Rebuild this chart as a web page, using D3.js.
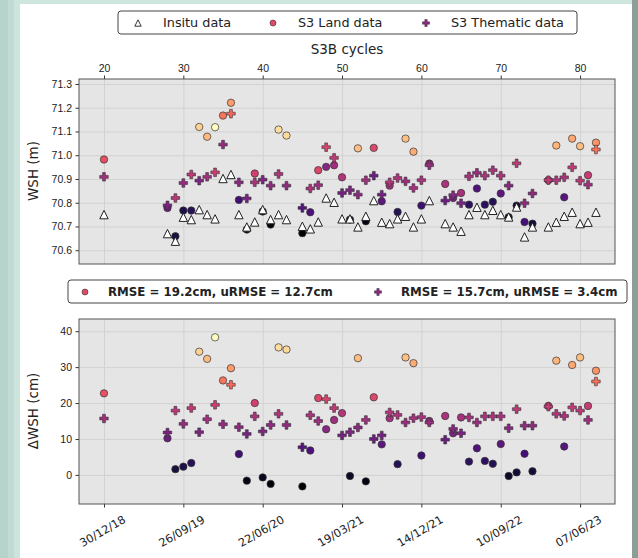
<!DOCTYPE html>
<html>
<head>
<meta charset="utf-8">
<script src="https://cdn.jsdelivr.net/npm/d3@7"></script>
<style>
  body { margin: 0; background: #c3dcd5; }
  svg { display: block; font-family: 'DejaVu Sans', sans-serif; }
  .tick text { fill: #222; font-size: 10.5px; }
  .tick line { stroke: #333; }
  .domain { display: none; }
  .grid line { stroke: #d2d2d2; stroke-width: 1; }
  .grid .domain { display: none; }
</style>
</head>
<body>
<div id="chart"></div>
<script>
// S3B cycle numbers
const cycles = [20, 28, 29, 30, 31, 32, 33, 34, 35, 36, 37, 38, 39, 40, 41, 42, 43,
  45, 46, 47, 48, 49, 50, 51, 52, 53, 54, 55, 56, 57, 58, 59, 60, 61,
  63, 64, 65, 66, 67, 68, 69, 70, 71, 72, 73, 74, 76, 77, 78, 79, 80, 81, 82]

// WSH (m)
const insituWsh = [70.750, 70.670, 70.638, 70.739, 70.729, 70.771, 70.750, 70.732, 70.902, 70.919, 70.750, 70.698, 70.719, 70.771, 70.729, 70.750, 70.729,
  70.701, 70.690, 70.719, 70.820, 70.802, 70.732, 70.732, 70.698, 70.743, 70.809, 70.718, 70.712, 70.732, 70.743, 70.698, 70.732, 70.809,
  70.712, 70.698, 70.680, 70.750, 70.781, 70.750, 70.768, 70.750, 70.740, 70.782, 70.656, 70.698, 70.698, 70.718, 70.743, 70.760, 70.712, 70.718, 70.760]
const landWsh = [70.982, 70.778, 70.659, 70.767, 70.767, 71.119, 71.078, 71.118, 71.167, 71.221, 70.812, 70.687, 70.923, 70.763, 70.708, 71.108, 71.083,
  70.672, 70.760, 70.937, 70.951, 70.958, 70.907, 70.729, 71.029, 70.722, 71.031, 70.806, 70.872, 70.761, 71.070, 71.015, 70.788, 70.965,
  70.879, 70.820, 70.841, 70.792, 70.860, 70.792, 70.804, 70.839, 70.739, 70.788, 70.719, 70.712, 70.895, 71.041, 70.823, 71.070, 71.038, 70.916, 71.053]
const thematicWsh = [70.909, 70.789, 70.820, 70.883, 70.919, 70.893, 70.909, 70.928, 71.045, 71.175, 70.886, 70.818, 70.886, 70.897, 70.872, 70.921, 70.872,
  70.778, 70.860, 70.874, 71.034, 70.989, 70.841, 70.853, 70.834, 70.895, 70.914, 70.834, 70.886, 70.904, 70.890, 70.862, 70.895, 70.958,
  70.809, 70.832, 70.798, 70.911, 70.926, 70.914, 70.937, 70.914, 70.872, 70.966, 70.798, 70.839, 70.895, 70.895, 70.907, 70.949, 70.893, 70.876, 71.024]

// Delta WSH (cm)
const landDelta = [22.7, 10.2, 1.6, 2.3, 3.3, 34.3, 32.3, 38.3, 26.3, 29.7, 5.8, -1.6, 20.0, -0.7, -2.5, 35.5, 34.9,
  -3.2, 6.8, 21.4, 12.7, 15.3, 17.2, -0.3, 32.5, -1.8, 21.6, 8.5, 15.8, 3.0, 32.7, 31.1, 5.4, 15.0,
  16.4, 11.6, 16.0, 3.7, 7.4, 3.9, 3.1, 8.6, -0.3, 0.7, 5.9, 1.0, 19.2, 31.8, 7.9, 30.6, 32.7, 19.2, 29.0]
const thematicDelta = [15.7, 11.8, 17.9, 14.2, 18.6, 11.9, 15.5, 19.5, 14.1, 25.1, 13.3, 11.4, 16.3, 12.1, 13.9, 17.0, 13.9,
  7.7, 16.6, 15.0, 21.1, 18.6, 11.0, 11.9, 13.2, 15.3, 10.0, 11.0, 17.4, 16.7, 14.6, 15.8, 16.1, 14.6,
  9.8, 12.8, 11.6, 16.0, 14.6, 16.3, 16.3, 16.3, 13.0, 18.3, 13.7, 13.7, 19.0, 17.0, 16.4, 18.8, 17.9, 15.3, 26.0]

const cycleTicks = [20, 30, 40, 50, 60, 70, 80]
const wshTicks = [70.6, 70.7, 70.8, 70.9, 71.0, 71.1, 71.2, 71.3]
const deltaTicks = [0, 10, 20, 30, 40]
const legendTop = ['Insitu data', 'S3 Land data', 'S3 Thematic data']
const legendBottom = ['RMSE = 19.2cm, uRMSE = 12.7cm', 'RMSE = 15.7cm, uRMSE = 3.4cm']
const firstCycle = 20
const firstCycleDate = new Date(2018, 11, 30)
const cycleDays = 27

const width = 638
const height = 558

const svg = d3.select('#chart').append('svg')
  .attr('width', width)
  .attr('height', height)

// slide background around the figure
svg.append('rect').attr('x', 0).attr('y', 0).attr('width', 8).attr('height', height).attr('fill', '#b6d4cc')
svg.append('rect').attr('x', 8).attr('y', 0).attr('width', 6).attr('height', height).attr('fill', '#c1dbd4')
svg.append('rect').attr('x', 14).attr('y', 0).attr('width', 6).attr('height', height).attr('fill', '#cde4dd')
svg.append('rect').attr('x', 20).attr('y', 0).attr('width', 612).attr('height', 4).attr('fill', '#cfe6df')
svg.append('rect').attr('x', 20).attr('y', 4).attr('width', 612).attr('height', height - 4).attr('fill', '#fff')
svg.append('rect').attr('x', 632).attr('y', 0).attr('width', 6).attr('height', height).attr('fill', '#8d9d97')

// scales
const left = 79, right = 615
const x = d3.scaleLinear().domain([16.85, 84.4]).range([left, right])
const yTop = d3.scaleLinear().domain([70.542, 71.321]).range([264, 79])
const yBot = d3.scaleLinear().domain([-8.1, 43.4]).range([504, 319])

const allDelta = landDelta.concat(thematicDelta)
const color = d3.scaleSequential(d3.interpolateMagma)
  .domain([d3.min(allDelta), d3.max(allDelta)])

// marker shapes
const plusPath = (s) => {
  const a = s / 6, b = s / 2
  return `M${-a},${-b}H${a}V${-a}H${b}V${a}H${a}V${b}H${-a}V${a}H${-b}V${-a}H${-a}Z`
}
const triPath = (r) => `M0,${-r}L${r},${r}L${-r},${r}Z`

const drawPanel = (yScale, yTicks, y0, y1, labelText, labelY) => {
  const g = svg.append('g')
  g.append('rect')
    .attr('x', left).attr('y', y1)
    .attr('width', right - left).attr('height', y0 - y1)
    .attr('fill', '#e5e5e5')

  // gridlines first, under the points
  g.append('g')
    .attr('class', 'grid')
    .attr('transform', `translate(0, ${y0})`)
    .call(d3.axisBottom(x).tickValues(cycleTicks).tickSize(-(y0 - y1)).tickFormat(''))
  g.append('g')
    .attr('class', 'grid')
    .attr('transform', `translate(${left}, 0)`)
    .call(d3.axisLeft(yScale).tickValues(yTicks).tickSize(-(right - left)).tickFormat(''))

  // left axis
  g.append('g')
    .attr('transform', `translate(${left}, 0)`)
    .call(d3.axisLeft(yScale).tickValues(yTicks).tickSize(3.5).tickPadding(3.5)
      .tickFormat(d => yTicks === deltaTicks ? d : d3.format('.1f')(d)))

  g.append('text')
    .attr('transform', `translate(34, ${labelY}) rotate(-90)`)
    .attr('text-anchor', 'middle')
    .attr('dominant-baseline', 'middle')
    .attr('font-size', 13.5)
    .attr('fill', '#222')
    .text(labelText)
  return g
}

// ---------------- top panel ----------------
const topPanel = drawPanel(yTop, wshTicks, 264, 79, 'WSH (m)', 171)

topPanel.append('g')
  .attr('transform', `translate(0, 79)`)
  .call(d3.axisTop(x).tickValues(cycleTicks).tickSize(3.5).tickPadding(3.5))

svg.append('text')
  .attr('x', (left + right) / 2).attr('y', 50)
  .attr('text-anchor', 'middle')
  .attr('dominant-baseline', 'middle')
  .attr('font-size', 13.5)
  .attr('fill', '#222')
  .text('S3B cycles')

topPanel.append('g').selectAll('circle')
  .data(cycles)
  .join('circle')
  .attr('cx', d => x(d))
  .attr('cy', (d, i) => yTop(landWsh[i]))
  .attr('r', 3.7)
  .attr('fill', (d, i) => color(landDelta[i]))
  .attr('stroke', '#333')
  .attr('stroke-width', 0.7)

topPanel.append('g').selectAll('path')
  .data(cycles)
  .join('path')
  .attr('transform', (d, i) => `translate(${x(d)}, ${yTop(thematicWsh[i])})`)
  .attr('d', plusPath(8.5))
  .attr('fill', (d, i) => color(thematicDelta[i]))
  .attr('stroke', '#333')
  .attr('stroke-width', 0.6)

topPanel.append('g').selectAll('path')
  .data(cycles)
  .join('path')
  .attr('transform', (d, i) => `translate(${x(d)}, ${yTop(insituWsh[i])})`)
  .attr('d', triPath(4.2))
  .attr('fill', '#fff')
  .attr('stroke', '#222')
  .attr('stroke-width', 1)

topPanel.append('rect')
  .attr('x', left).attr('y', 79)
  .attr('width', right - left).attr('height', 185)
  .attr('fill', 'none').attr('stroke', '#555').attr('stroke-width', 1)

// ---------------- bottom panel ----------------
const botPanel = drawPanel(yBot, deltaTicks, 504, 319, 'ΔWSH (cm)', 411)

const dateOf = c => d3.timeDay.offset(firstCycleDate, (c - firstCycle) * cycleDays)
botPanel.append('g')
  .attr('transform', `translate(0, 504)`)
  .call(d3.axisBottom(x).tickValues(cycleTicks).tickSize(3.5).tickFormat(''))

botPanel.append('g').selectAll('text')
  .data(cycleTicks)
  .join('text')
  .attr('transform', d => `translate(${x(d) - 1}, 532) rotate(-30)`)
  .attr('text-anchor', 'middle')
  .attr('dominant-baseline', 'middle')
  .attr('font-size', 11.3)
  .attr('fill', '#222')
  .text(d => d3.timeFormat('%d/%m/%y')(dateOf(d)))

botPanel.append('g').selectAll('circle')
  .data(cycles)
  .join('circle')
  .attr('cx', d => x(d))
  .attr('cy', (d, i) => yBot(landDelta[i]))
  .attr('r', 3.7)
  .attr('fill', (d, i) => color(landDelta[i]))
  .attr('stroke', '#333')
  .attr('stroke-width', 0.7)

botPanel.append('g').selectAll('path')
  .data(cycles)
  .join('path')
  .attr('transform', (d, i) => `translate(${x(d)}, ${yBot(thematicDelta[i])})`)
  .attr('d', plusPath(8.5))
  .attr('fill', (d, i) => color(thematicDelta[i]))
  .attr('stroke', '#333')
  .attr('stroke-width', 0.6)

botPanel.append('rect')
  .attr('x', left).attr('y', 319)
  .attr('width', right - left).attr('height', 185)
  .attr('fill', 'none').attr('stroke', '#555').attr('stroke-width', 1)

// ---------------- legends ----------------
const leg1 = svg.append('g')
leg1.append('rect')
  .attr('x', 118).attr('y', 11).attr('width', 459).attr('height', 23).attr('rx', 3)
  .attr('fill', '#fff').attr('stroke', '#444').attr('stroke-width', 1)
const leg1X = [138, 273, 426]
leg1.append('path').attr('transform', `translate(${leg1X[0]}, 23)`).attr('d', triPath(3.2))
  .attr('fill', '#fff').attr('stroke', '#222').attr('stroke-width', 0.9)
leg1.append('circle').attr('cx', leg1X[1]).attr('cy', 23).attr('r', 3)
  .attr('fill', '#de4968').attr('stroke', '#333').attr('stroke-width', 0.6)
leg1.append('path').attr('transform', `translate(${leg1X[2]}, 23)`).attr('d', plusPath(7))
  .attr('fill', '#8c2981').attr('stroke', '#333').attr('stroke-width', 0.5)
leg1.selectAll('text.lab')
  .data(legendTop)
  .join('text')
  .attr('class', 'lab')
  .attr('x', (d, i) => leg1X[i] + 25)
  .attr('y', 23)
  .attr('dominant-baseline', 'middle')
  .attr('font-size', 12.8)
  .attr('fill', '#222')
  .text(d => d)

const leg2 = svg.append('g')
leg2.append('rect')
  .attr('x', 68).attr('y', 280).attr('width', 559).attr('height', 23).attr('rx', 3)
  .attr('fill', '#fff').attr('stroke', '#444').attr('stroke-width', 1)
const leg2X = [85, 378]
leg2.append('circle').attr('cx', leg2X[0]).attr('cy', 292).attr('r', 3)
  .attr('fill', '#de4968').attr('stroke', '#333').attr('stroke-width', 0.6)
leg2.append('path').attr('transform', `translate(${leg2X[1]}, 292)`).attr('d', plusPath(7))
  .attr('fill', '#8c2981').attr('stroke', '#333').attr('stroke-width', 0.5)
leg2.selectAll('text.lab')
  .data(legendBottom)
  .join('text')
  .attr('class', 'lab')
  .attr('x', (d, i) => leg2X[i] + 23)
  .attr('y', 292)
  .attr('dominant-baseline', 'middle')
  .attr('font-size', 11.8)
  .attr('font-weight', 'bold')
  .attr('fill', '#222')
  .text(d => d)
</script>
</body>
</html>
